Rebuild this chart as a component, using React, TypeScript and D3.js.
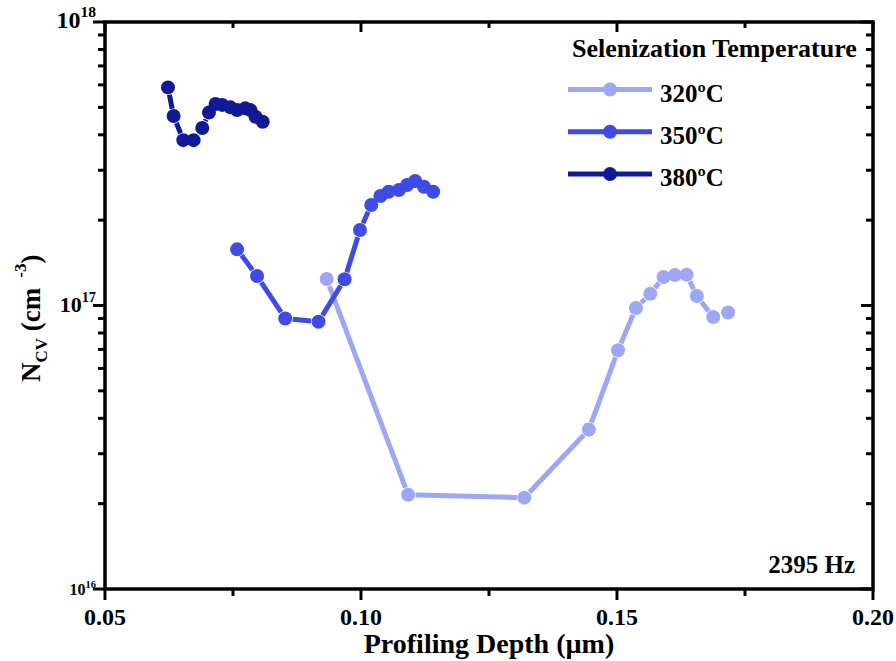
import React from "react";
import * as d3 from "d3";

// ---- data ----
const seriesNames = ["320ºC", "350ºC", "380ºC"];

const depth320 = [0.0933, 0.1092, 0.1319, 0.1445, 0.1502, 0.1537, 0.1565, 0.1591, 0.1613, 0.1636, 0.1656, 0.1688, 0.1717];
const ncv320 = [1.24e17, 2.15e16, 2.1e16, 3.65e16, 6.95e16, 9.8e16, 1.1e17, 1.26e17, 1.28e17, 1.285e17, 1.08e17, 9.1e16, 9.45e16];

const depth350 = [0.0758, 0.0797, 0.0852, 0.0917, 0.0968, 0.0998, 0.102, 0.1038, 0.1054, 0.1074, 0.109, 0.1106, 0.1123, 0.1141];
const ncv350 = [1.578e17, 1.27e17, 9.0e16, 8.76e16, 1.237e17, 1.846e17, 2.262e17, 2.433e17, 2.52e17, 2.556e17, 2.66e17, 2.75e17, 2.625e17, 2.52e17];

const depth380 = [0.0623, 0.0634, 0.0653, 0.0673, 0.069, 0.0703, 0.0716, 0.0729, 0.0745, 0.0758, 0.0774, 0.0784, 0.0794, 0.0808];
const ncv380 = [5.88e17, 4.66e17, 3.83e17, 3.83e17, 4.23e17, 4.79e17, 5.14e17, 5.1e17, 5.0e17, 4.89e17, 4.96e17, 4.89e17, 4.63e17, 4.45e17];

const xTicks = [0.05, 0.1, 0.15, 0.2];
const xTickLabels = ["0.05", "0.10", "0.15", "0.20"];
const xMinorTicks = [0.075, 0.125, 0.175];
const yTicks = [1e16, 1e17, 1e18];
const yTickExponents = ["16", "17", "18"];

const legendTitle = "Selenization Temperature";
const freqLabel = "2395 Hz";
const xTitle = "Profiling Depth (µm)";

// ---- styles ----
const colors = ["#9ea6f6", "#404ae4", "#101a96"];
const FONT = "'Liberation Serif', 'Times New Roman', serif";
const W = 896, H = 661;
const L = 105, R = 873, T = 22, B = 589;

export default function App() {
  const x = d3.scaleLinear().domain([0.05, 0.2]).range([L, R]);
  const y = d3.scaleLog().domain([1e16, 1e18]).range([B, T]);

  const series = [
    { xs: depth320, ys: ncv320 },
    { xs: depth350, ys: ncv350 },
    { xs: depth380, ys: ncv380 },
  ];

  const minorY: number[] = [];
  for (let e = 16; e < 18; e++) for (let m = 2; m <= 9; m++) minorY.push(m * Math.pow(10, e));

  const gap = 7.5;
  const lw = 5;
  const r = 7;
  const yLabelSizes = [16, 22, 24];

  return (
    <div style={{ position: "absolute", left: 0, top: 0 }}>
      <svg width={W} height={H} style={{ display: "block", background: "#fff" }} fontFamily={FONT} fontWeight="bold">
        {/* data */}
        {series.map((s, si) => {
          const pts = s.xs.map((v, i) => [x(v), y(s.ys[i])]);
          const segs: any[] = [];
          for (let i = 0; i < pts.length - 1; i++) {
            const [x1, y1] = pts[i];
            const [x2, y2] = pts[i + 1];
            const dx = x2 - x1, dy = y2 - y1;
            const len = Math.hypot(dx, dy);
            if (len <= 2 * gap + 1) continue;
            const ux = dx / len, uy = dy / len;
            segs.push(
              <line key={i} x1={x1 + ux * gap} y1={y1 + uy * gap} x2={x2 - ux * gap} y2={y2 - uy * gap}
                stroke={colors[si]} strokeWidth={lw} />
            );
          }
          return (
            <g key={si}>
              {segs}
              {pts.map((p, i) => (
                <circle key={i} cx={p[0]} cy={p[1]} r={r} fill={colors[si]} />
              ))}
            </g>
          );
        })}

        {/* ticks */}
        <g stroke="#000" strokeWidth={3}>
          {xTicks.map((t, i) => (
            <g key={"xt" + i}>
              <line x1={x(t)} x2={x(t)} y1={B} y2={B + 11} />
              <line x1={x(t)} x2={x(t)} y1={T} y2={T + 10} />
            </g>
          ))}
          {xMinorTicks.map((t, i) => (
            <g key={"xm" + i}>
              <line x1={x(t)} x2={x(t)} y1={B} y2={B + 7} />
              <line x1={x(t)} x2={x(t)} y1={T} y2={T + 6} />
            </g>
          ))}
          {yTicks.map((t, i) => (
            <g key={"yt" + i}>
              <line x1={L - 12} x2={L} y1={y(t)} y2={y(t)} />
              <line x1={R - 12} x2={R} y1={y(t)} y2={y(t)} />
            </g>
          ))}
          {minorY.map((t, i) => (
            <g key={"ym" + i}>
              <line x1={L - 7} x2={L} y1={y(t)} y2={y(t)} />
              <line x1={R - 7} x2={R} y1={y(t)} y2={y(t)} />
            </g>
          ))}
        </g>

        {/* frame */}
        <rect x={L} y={T} width={R - L} height={B - T} fill="none" stroke="#000" strokeWidth={3.5} />

        {/* x tick labels */}
        {xTicks.map((t, i) => (
          <text key={"xl" + i} x={x(t)} y={625} textAnchor="middle" fontSize={24}>{xTickLabels[i]}</text>
        ))}
        {/* y tick labels */}
        {yTicks.map((t, i) => (
          <text key={"yl" + i} x={96} y={y(t) + 6} textAnchor="end" fontSize={yLabelSizes[i]}>
            10<tspan fontSize={yLabelSizes[i] * 0.65} dy={-yLabelSizes[i] * 0.45}>{yTickExponents[i]}</tspan>
          </text>
        ))}

        {/* axis titles */}
        <text x={(L + R) / 2} y={653} textAnchor="middle" fontSize={28}>{xTitle}</text>
        <g transform="translate(40,382) rotate(-90)">
          <text x={0} y={0} fontSize={27}>
            N<tspan fontSize={17} dy={7}>CV</tspan>
            <tspan dy={-7}> (cm</tspan>
            <tspan fontSize={17} dx={10} dy={-14}>-3</tspan>
            <tspan dy={14} dx={0}>)</tspan>
          </text>
        </g>

        {/* legend */}
        <text x={572} y={57} fontSize={26}>{legendTitle}</text>
        {seriesNames.map((n, i) => {
          const ly = 89.5 + i * 42.3;
          return (
            <g key={"lg" + i}>
              <line x1={568} x2={652} y1={ly} y2={ly} stroke={colors[i]} strokeWidth={lw} />
              <circle cx={610} cy={ly} r={r} fill={colors[i]} />
              <text x={660} y={ly + 12} fontSize={25}>{n}</text>
            </g>
          );
        })}

        <text x={855} y={573} textAnchor="end" fontSize={25}>{freqLabel}</text>
      </svg>
    </div>
  );
}
